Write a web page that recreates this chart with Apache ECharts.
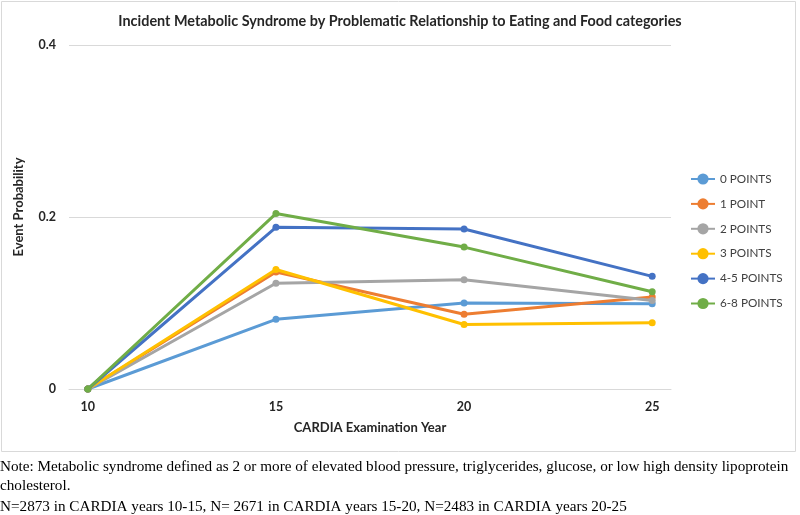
<!DOCTYPE html>
<html>
<head>
<meta charset="utf-8">
<script src="https://cdn.jsdelivr.net/npm/echarts@6/dist/echarts.min.js"></script>
<style>
html,body{margin:0;padding:0;background:#fff;}
#chart{width:800px;height:515px;}
</style>
</head>
<body>
<div id="chart"></div>
<script>
const years = [10, 15, 20, 25];
const seriesNames = ['0 POINTS', '1 POINT', '2 POINTS', '3 POINTS', '4-5 POINTS', '6-8 POINTS'];
const points0 = [0, 0.081, 0.100, 0.099];
const points1 = [0, 0.136, 0.087, 0.107];
const points2 = [0, 0.123, 0.127, 0.103];
const points3 = [0, 0.139, 0.075, 0.077];
const points45 = [0, 0.188, 0.186, 0.131];
const points68 = [0, 0.204, 0.165, 0.113];
const yTicks = [0, 0.2, 0.4];
const xTicks = [10, 15, 20, 25];
const colors = ['#5B9BD5', '#ED7D31', '#A5A5A5', '#FFC000', '#4472C4', '#70AD47'];
const titleText = 'Incident Metabolic Syndrome by Problematic Relationship to Eating and Food categories';
const noteLines = [
  'Note: Metabolic syndrome defined as 2 or more of elevated blood pressure, triglycerides, glucose, or low high density lipoprotein',
  'cholesterol.',
  'N=2873 in CARDIA years 10-15, N= 2671 in CARDIA years 15-20, N=2483 in CARDIA years 20-25'
];

const allValues = [points0, points1, points2, points3, points45, points68];
const font = 'Lato, "Open Sans", sans-serif';
const dark = '#262626';

const chart = echarts.init(document.getElementById('chart'), null, {renderer: 'canvas'});
const series = seriesNames.map((n, i) => ({
  name: n,
  type: 'line',
  data: years.map((y, j) => [y, allValues[i][j]]),
  symbol: 'circle',
  symbolSize: 7,
  lineStyle: {width: 3, color: colors[i]},
  itemStyle: {color: colors[i]},
  z: 2 + i,
  animation: false
}));

const noteY = [468, 487, 508];
chart.setOption({
  animation: false,
  title: {
    text: titleText,
    left: 'center',
    top: 9,
    textStyle: {fontFamily: font, fontSize: 14.4, fontWeight: 'bold', color: dark}
  },
  grid: {left: 69, right: 129, top: 45, bottom: 126},
  legend: {
    orient: 'vertical',
    left: 685,
    top: 168,
    itemWidth: 24,
    itemHeight: 14,
    itemGap: 12.9,
    data: seriesNames,
    textStyle: {fontFamily: font, fontSize: 11.7, color: '#404040'}
  },
  xAxis: {
    type: 'value',
    min: 9.5,
    max: 25.5,
    name: 'CARDIA Examination Year',
    nameLocation: 'middle',
    nameGap: 32,
    nameTextStyle: {fontFamily: font, fontSize: 13, fontWeight: 'bold', color: dark},
    axisLine: {show: true, lineStyle: {color: '#d9d9d9', width: 1}},
    axisTick: {show: false},
    splitLine: {show: false},
    axisLabel: {
      customValues: xTicks,
      margin: 11,
      fontFamily: font, fontSize: 12.5, fontWeight: 'bold', color: dark
    }
  },
  yAxis: {
    type: 'value',
    min: 0,
    max: 0.4,
    interval: 0.2,
    name: 'Event Probability',
    nameLocation: 'middle',
    nameGap: 44,
    nameRotate: 90,
    nameTextStyle: {fontFamily: font, fontSize: 13, fontWeight: 'bold', color: dark, padding: [0, 0, 0, 20]},
    axisLine: {show: false},
    axisTick: {show: false},
    splitLine: {lineStyle: {color: '#d9d9d9', width: 1}},
    axisLabel: {
      margin: 13,
      fontFamily: font, fontSize: 12.5, fontWeight: 'bold', color: dark,
      formatter: v => yTicks.includes(Math.round(v * 10) / 10) ? String(Math.round(v * 10) / 10) : ''
    }
  },
  graphic: [
    {type: 'rect', shape: {x: 1.5, y: 1.5, width: 794, height: 450}, style: {fill: 'none', stroke: '#d9d9d9', lineWidth: 1}, z: -1, silent: true}
  ].concat(noteLines.map((t, i) => ({
    type: 'text', left: 0, top: noteY[i] - 8,
    style: {text: t, font: '15.2px "Liberation Serif", "Times New Roman", serif', fill: '#000'}
  }))),
  series: series
});
</script>
</body>
</html>
